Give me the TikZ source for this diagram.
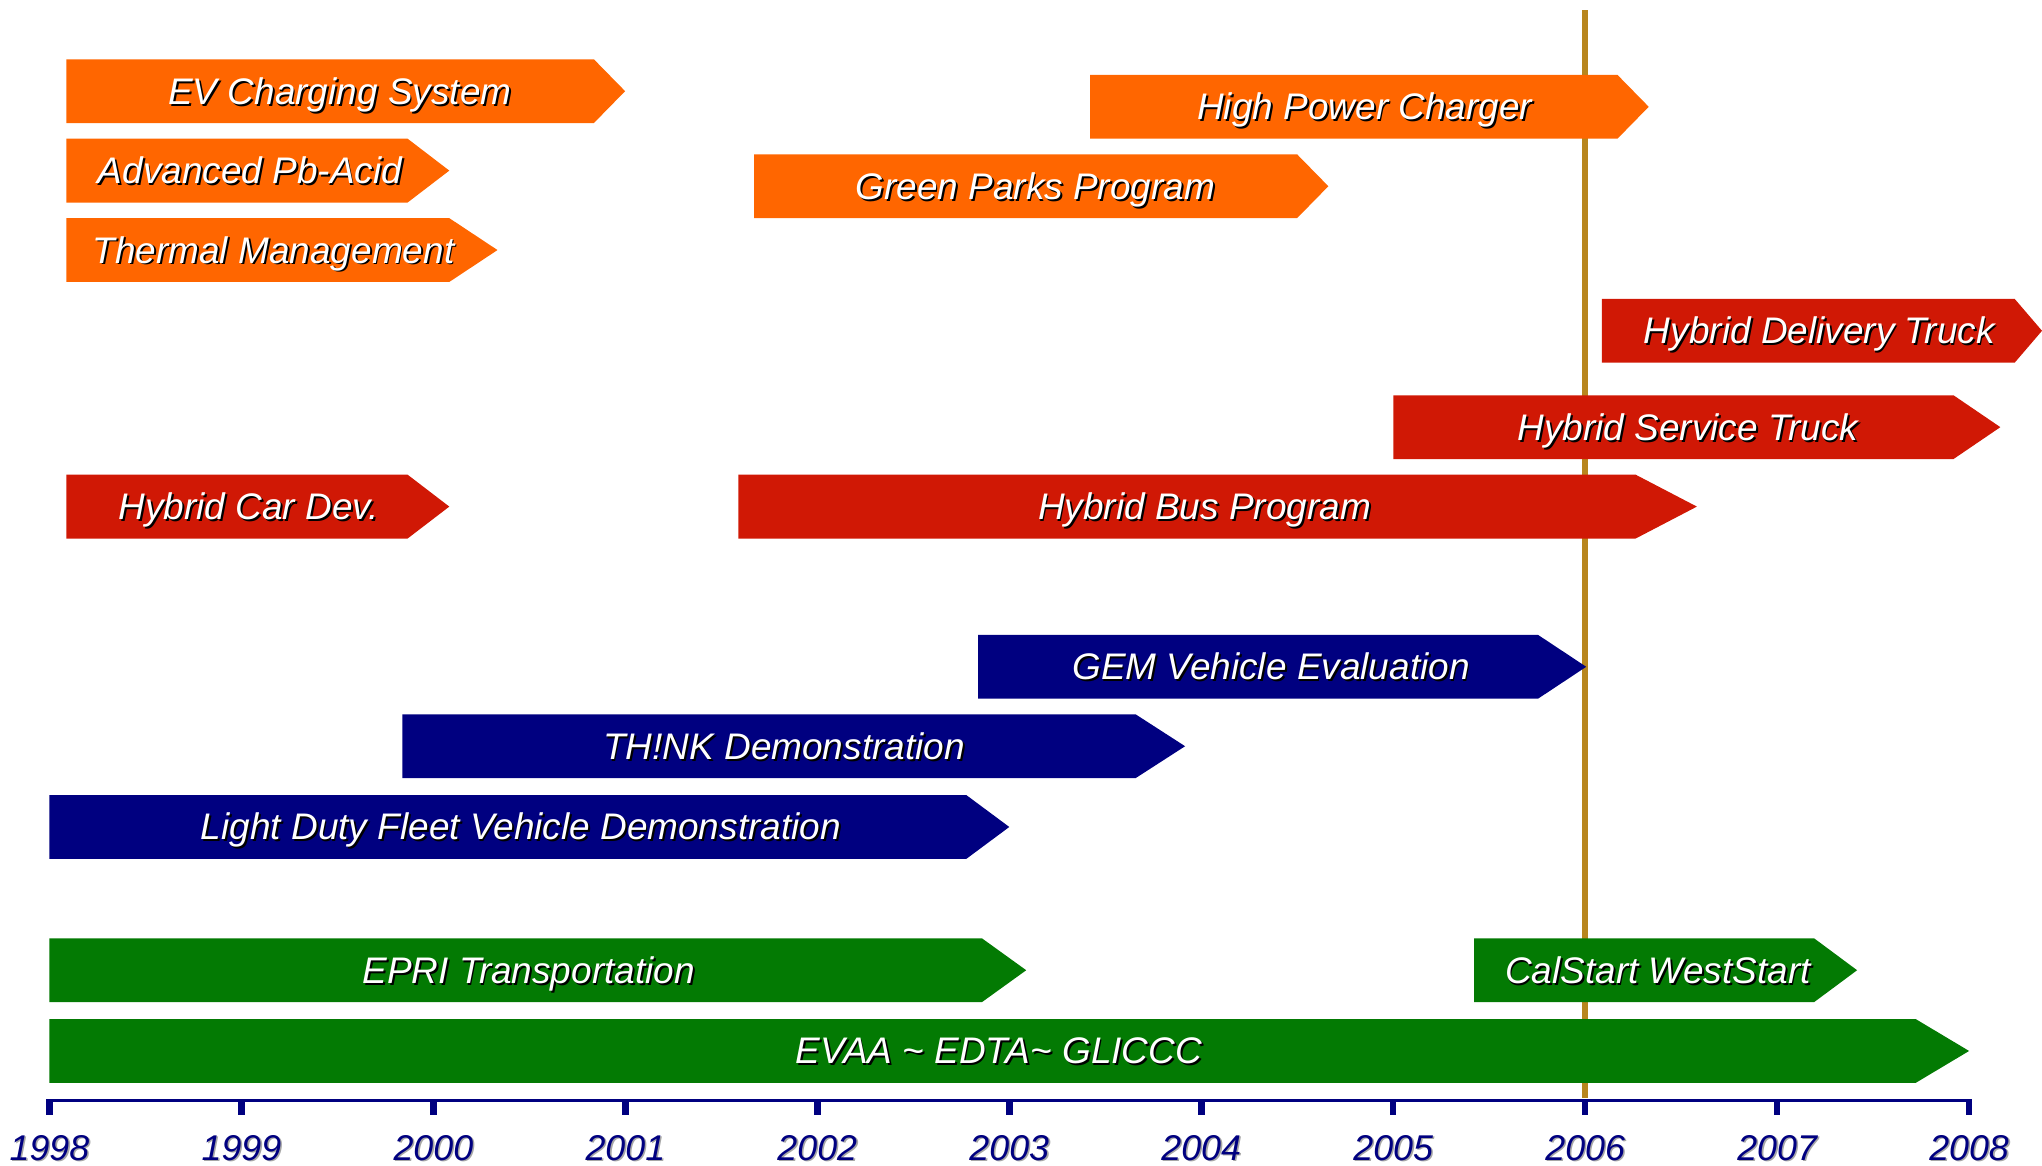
\documentclass[tikz,border=0pt]{standalone}
\usepackage{fontspec}
\setmainfont{Liberation Sans}
\definecolor{barorange}{HTML}{FF6600}
\definecolor{barred}{HTML}{D01805}
\definecolor{barnavy}{HTML}{000080}
\definecolor{bargreen}{HTML}{037A03}
\definecolor{goldline}{HTML}{B8861E}
\tikzset{
  bartext/.style={text=white,font=\fontsize{28.4}{32}\selectfont\itshape,inner sep=0pt,anchor=base},
  barshadow/.style={text=black,font=\fontsize{28.4}{32}\selectfont\itshape,inner sep=0pt,anchor=base},
  yeartext/.style={text=barnavy,font=\fontsize{27.5}{32}\selectfont\itshape,inner sep=0pt,anchor=base},
  yearshadow/.style={text=black!35,font=\fontsize{27.5}{32}\selectfont\itshape,inner sep=0pt,anchor=base},
}
% #1 name, #2 x start, #3 x rect end, #4 x tip, #5 y middle, #6 colour, #7 text x, #8 text
\newcommand\tlbar[8]{%
  \fill[#6] (#2,#5-24.5) -- (#3,#5-24.5) -- (#4,#5) -- (#3,#5+24.5) -- (#2,#5+24.5) -- cycle;
  \node[barshadow] at (#7+1.4,#5+11.4) {#8};
  \node[bartext] (#1) at (#7,#5+10) {#8};
}
\begin{document}
\begin{tikzpicture}[x=1pt,y=-1pt]
\useasboundingbox (0,0) rectangle (1568,895);
% 2006 marker line (behind the bars)
\draw[goldline,line width=5pt] (1217,8) coordinate (goldtop) -- (1217,843) coordinate (goldbot);
% orange
\tlbar{ev}{51}{456}{480}{70}{barorange}{261}{EV Charging System}
\tlbar{pb}{51}{313}{345}{131}{barorange}{192}{Advanced Pb-Acid}
\tlbar{thermal}{51}{345}{382}{192}{barorange}{210}{Thermal Management}
\tlbar{hpc}{837}{1242}{1266}{82}{barorange}{1048}{High Power Charger}
\tlbar{green}{579}{996}{1020}{143}{barorange}{795}{Green Parks Program}
% red
\tlbar{delivery}{1230}{1547}{1568}{254}{barred}{1397}{Hybrid Delivery Truck}
\tlbar{service}{1070}{1500}{1536}{328}{barred}{1296}{Hybrid Service Truck}
\tlbar{car}{51}{313}{345}{389}{barred}{191}{Hybrid Car Dev.}
\tlbar{bus}{567}{1256}{1303}{389}{barred}{925}{Hybrid Bus Program}
% navy
\tlbar{gem}{751}{1181}{1218}{512}{barnavy}{976}{GEM Vehicle Evaluation}
\tlbar{think}{309}{872}{910}{573}{barnavy}{602}{TH!NK Demonstration}
\tlbar{ldf}{38}{742}{775}{635}{barnavy}{400}{Light Duty Fleet Vehicle Demonstration}
% green
\tlbar{epri}{38}{754}{788}{745}{bargreen}{406}{EPRI Transportation}
\tlbar{calstart}{1132}{1393}{1426}{745}{bargreen}{1273}{CalStart WestStart}
\tlbar{evaa}{38}{1471}{1512}{807}{bargreen}{767}{EVAA \textasciitilde{} EDTA\textasciitilde{} GLICCC}
% axis
\coordinate (axl) at (38,845);
\coordinate (axr) at (1512,845);
\draw[barnavy,line width=3pt] (axl) -- (axr);
\foreach \yr [count=\i from 0] in {1998,...,2008}{
  \pgfmathsetmacro\xx{38+147.4*\i}
  \draw[barnavy,line width=5pt] (\xx,844) -- (\xx,856);
  \node[yearshadow] at (\xx+1.2,892.2) {\yr};
  \node[yeartext] (y\yr) at (\xx,891) {\yr};
}
\end{tikzpicture}
\end{document}
